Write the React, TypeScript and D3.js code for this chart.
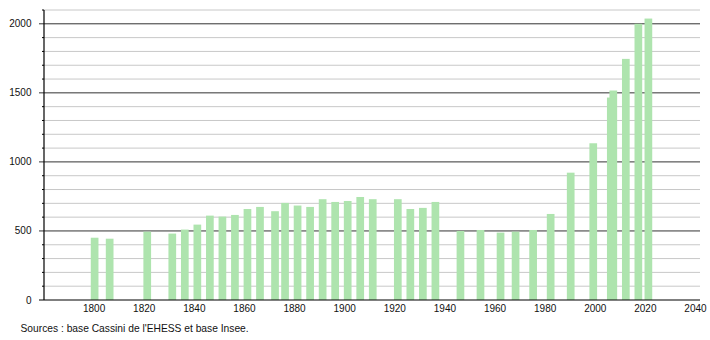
import React from "react";
import * as d3 from "d3";

const years = [1800, 1806, 1821, 1831, 1836, 1841, 1846, 1851, 1856, 1861, 1866, 1872, 1876, 1881, 1886, 1891, 1896, 1901, 1906, 1911, 1921, 1926, 1931, 1936, 1946, 1954, 1962, 1968, 1975, 1982, 1990, 1999, 2006, 2007, 2012, 2017, 2021];
const population = [451, 444, 495, 481, 510, 546, 611, 604, 616, 659, 674, 643, 703, 684, 674, 730, 710, 717, 746, 730, 730, 659, 667, 710, 500, 507, 488, 495, 507, 623, 922, 1135, 1466, 1517, 1746, 2000, 2038];
const xTickYears = [1800, 1820, 1840, 1860, 1880, 1900, 1920, 1940, 1960, 1980, 2000, 2020, 2040];
const yMajorTicks = [0, 500, 1000, 1500, 2000];
const yGridValues = d3.range(100, 2101, 100);
const sourceText = "Sources : base Cassini de l'EHESS et base Insee.";

const W = 710;
const H = 340;
const FONT = "'Liberation Sans', Arial, sans-serif";

export default function App() {
  const x = d3.scaleLinear().domain([1780, 2042]).range([44.5, 701]);
  const y = d3.scaleLinear().domain([0, 2100]).range([300, 10]);
  const barW = 7.7;
  const data = years.map((yr, i) => ({ yr, v: population[i] }));

  return (
    <svg
      width={W}
      height={H}
      style={{ position: "absolute", left: 0, top: 0, background: "#fff" }}
      fontFamily={FONT}
    >
      <rect x={0} y={0} width={W} height={H} fill="#fff" />
      {/* minor grid */}
      {yGridValues
        .filter((v) => v % 500 !== 0)
        .map((v) => (
          <g key={"g" + v}>
            <line x1={44} x2={700} y1={y(v)} y2={y(v)} stroke="#c8c8c8" strokeWidth={1} />
            <line x1={42} x2={44} y1={y(v)} y2={y(v)} stroke="#000" strokeWidth={1} />
          </g>
        ))}
      {/* major grid */}
      {yMajorTicks
        .filter((v) => v > 0)
        .map((v) => (
          <line key={"m" + v} x1={39} x2={700} y1={y(v)} y2={y(v)} stroke="#333" strokeWidth={1} />
        ))}
      {/* bars */}
      {data.map((d) => (
        <rect
          key={d.yr}
          x={x(d.yr) - barW / 2}
          y={y(d.v)}
          width={barW}
          height={y(0) - y(d.v)}
          fill="#aee4ae"
        />
      ))}
      {/* axes */}
      <line x1={44} x2={44} y1={y(2100)} y2={y(0)} stroke="#000" strokeWidth={1.2} />
      <line x1={39} x2={700} y1={y(0)} y2={y(0)} stroke="#000" strokeWidth={1.2} />
      {/* y labels */}
      {yMajorTicks.map((v) => (
        <text key={"yl" + v} x={31.5} y={y(v)} dy="0.35em" textAnchor="end" fontSize={10} fill="#111">
          {v}
        </text>
      ))}
      {/* x labels */}
      {xTickYears.map((yr) => (
        <text key={"xl" + yr} x={x(yr) - 0.5} y={312} textAnchor="middle" fontSize={10} fill="#111">
          {yr}
        </text>
      ))}
      <text x={20.5} y={332} fontSize={10.25} fill="#111">
        {sourceText}
      </text>
    </svg>
  );
}
